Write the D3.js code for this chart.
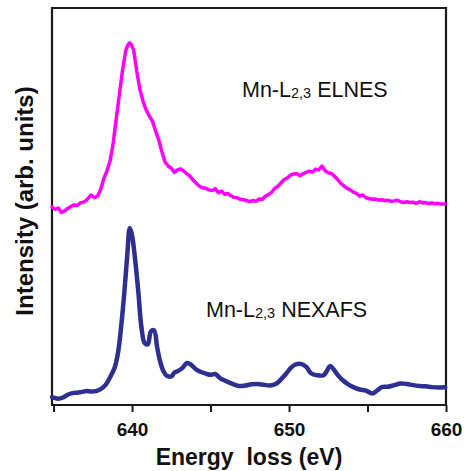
<!DOCTYPE html>
<html>
<head>
<meta charset="utf-8">
<script src="https://cdn.jsdelivr.net/npm/d3@7"></script>
<style>
  html, body { margin: 0; padding: 0; background: #fff; }
  svg { display: block; }
  text { font-family: "Liberation Sans", Arial, Helvetica, sans-serif; }
</style>
</head>
<body>
<svg id="chart" width="468" height="471"></svg>
<script>
// ---------------- data ----------------
const elnesEnergy = [634.9,635.1,635.3,635.5,635.7,635.9,636.1,636.3,636.5,636.7,636.9,637.1,637.3,637.4,637.6,637.8,638.0,638.2,638.4,638.6,638.8,639.0,639.2,639.4,639.6,639.75,639.85,639.95,640.1,640.3,640.5,640.7,640.9,641.1,641.3,641.5,641.7,641.9,642.1,642.3,642.5,642.7,642.9,643.1,643.3,643.5,643.7,643.9,644.1,644.3,644.5,644.7,644.9,645.1,645.3,645.5,645.7,645.9,646.1,646.3,646.5,646.7,646.9,647.1,647.3,647.5,647.7,647.9,648.1,648.3,648.5,648.7,648.9,649.1,649.3,649.5,649.7,649.9,650.1,650.3,650.5,650.7,650.9,651.1,651.3,651.5,651.7,651.9,652.1,652.3,652.5,652.7,652.9,653.1,653.3,653.5,653.7,653.9,654.1,654.3,654.5,654.7,654.9,655.1,655.3,655.5,655.7,655.9,656.1,656.3,656.5,656.7,656.9,657.1,657.3,657.5,657.7,657.9,658.1,658.3,658.5,658.7,658.9,659.1,659.3,659.5,659.7,659.95];
const elnesIntensity = [49.9,49.3,49.6,48.5,48.9,49.5,50.0,50.4,50.2,50.9,51.1,51.6,52.5,52.9,52.2,52.6,54.3,57.0,59.0,61.5,66.0,72.3,78.5,84.5,89.3,90.8,91.2,90.8,89.5,84.0,79.5,76.5,74.3,72.8,71.5,69.0,66.8,63.8,61.2,60.2,59.6,58.6,59.2,59.5,58.9,58.2,57.6,56.6,55.8,55.1,54.7,54.6,54.2,54.0,54.5,53.5,53.9,53.1,53.3,52.7,52.3,52.2,51.8,51.7,51.5,51.2,51.5,51.3,51.9,51.8,52.6,53.0,53.6,54.6,55.1,56.0,56.8,57.2,57.9,58.2,58.3,57.7,58.3,58.6,58.9,58.7,59.4,59.2,60.2,59.0,58.5,58.3,57.6,56.8,55.8,55.2,54.6,54.2,53.6,53.3,52.6,52.9,52.2,52.0,51.8,51.9,51.6,51.7,51.5,51.6,51.3,51.4,51.6,51.2,51.0,51.2,51.0,51.1,50.8,51.2,50.9,51.0,50.7,50.9,50.7,50.8,50.6,50.6];

const nexafsEnergy = [634.9,635.3,635.6,635.9,636.2,636.5,636.8,637.1,637.4,637.7,638.0,638.3,638.6,638.9,639.1,639.3,639.5,639.7,639.85,639.95,640.05,640.2,640.4,640.6,640.8,641.0,641.2,641.4,641.6,641.8,642.0,642.2,642.5,642.7,642.9,643.2,643.5,643.8,644.1,644.4,644.7,645.0,645.3,645.6,646.0,646.4,646.8,647.2,647.6,648.0,648.4,648.8,649.2,649.5,649.8,650.1,650.4,650.8,651.1,651.4,651.8,652.2,652.4,652.6,652.8,653.1,653.4,653.7,654.1,654.5,654.9,655.3,655.6,655.9,656.3,656.7,657.1,657.5,657.9,658.3,658.7,659.1,659.5,659.95];
const nexafsIntensity = [2.0,1.6,1.9,2.6,3.0,3.1,3.3,3.5,3.4,3.5,4.0,5.0,7.0,9.5,13.0,19.5,28.0,38.0,44.5,43.6,41.5,36.5,28.5,19.5,15.6,15.3,18.5,18.8,14.5,10.8,8.5,7.4,7.2,8.2,8.5,9.3,10.6,10.0,8.9,8.3,7.9,7.6,7.8,6.8,6.0,5.3,4.8,4.9,5.2,5.3,5.1,4.9,5.4,6.5,7.8,9.3,10.2,10.3,9.6,8.0,7.5,7.5,8.5,9.8,9.2,7.6,6.3,5.4,4.5,3.9,3.6,2.9,3.6,4.5,4.6,5.0,5.4,5.3,5.0,4.8,4.7,4.5,4.4,4.5];

const majorTicks = [640, 650, 660];
const minorTicks = [635, 645, 655];
const xTitle = "Energy  loss (eV)";
const yTitle = "Intensity (arb. units)";

// ---------------- chart ----------------
const svg = d3.select("#chart");
const mLeft = 52, mRight = 446, mTop = 8, mBottom = 405;

const x = d3.scaleLinear().domain([634.9, 660]).range([mLeft, mRight]);
const y = d3.scaleLinear().domain([0, 100]).range([mBottom, mTop]);

const elnes = elnesEnergy.map((e, i) => [e, elnesIntensity[i]]);
const nexafs = nexafsEnergy.map((e, i) => [e, nexafsIntensity[i]]);

const line = d3.line().x(d => x(d[0])).y(d => y(d[1]));
const smooth = d3.line().x(d => x(d[0])).y(d => y(d[1])).curve(d3.curveCatmullRom.alpha(0.5));

// frame (four sides), drawn as a single path
svg.append("path")
  .attr("d", `M${mLeft},${mTop}H${mRight}V${mBottom}H${mLeft}Z`)
  .attr("fill", "none")
  .attr("stroke", "#1a1a1a")
  .attr("stroke-width", 2.2);

svg.append("path").datum(elnes)
  .attr("d", line)
  .attr("fill", "none")
  .attr("stroke", "#ff00ff")
  .attr("stroke-width", 3.5)
  .attr("stroke-linejoin", "round")
  .attr("stroke-linecap", "round");

svg.append("path").datum(nexafs)
  .attr("d", smooth)
  .attr("fill", "none")
  .attr("stroke", "#2d3091")
  .attr("stroke-width", 4.5)
  .attr("stroke-linejoin", "round")
  .attr("stroke-linecap", "round");

// bottom axis
const xAxis = d3.axisBottom(x)
  .tickValues(majorTicks)
  .tickSize(7)
  .tickPadding(11)
  .tickFormat(d3.format("d"));
const gx = svg.append("g").attr("transform", `translate(0,${mBottom})`).call(xAxis);
gx.select(".domain").remove();
gx.selectAll(".tick line").attr("stroke", "#1a1a1a").attr("stroke-width", 2);
gx.selectAll(".tick text")
  .attr("font-family", "Liberation Sans, Arial, sans-serif")
  .attr("font-weight", "bold")
  .attr("font-size", 19)
  .attr("fill", "#111");

const xMinor = d3.axisBottom(x).tickValues(minorTicks).tickSize(7).tickFormat("");
const gm = svg.append("g").attr("transform", `translate(0,${mBottom})`).call(xMinor);
gm.select(".domain").remove();
gm.selectAll(".tick line").attr("stroke", "#1a1a1a").attr("stroke-width", 2);

// axis titles
svg.append("text")
  .attr("x", 249).attr("y", 465)
  .attr("text-anchor", "middle")
  .attr("font-weight", "bold")
  .attr("font-size", 23)
  .attr("fill", "#111")
  .style("white-space", "pre")
  .text(xTitle);

svg.append("text")
  .attr("transform", "translate(33,201) rotate(-90)")
  .attr("text-anchor", "middle")
  .attr("font-weight", "bold")
  .attr("font-size", 24)
  .attr("fill", "#111")
  .text(yTitle);

// annotations
function label(xp, yp, pre, sub, post) {
  const t = svg.append("text")
    .attr("x", xp).attr("y", yp)
    .attr("font-size", 21.5)
    .attr("fill", "#111")
    .style("white-space", "pre");
  t.append("tspan").text(pre);
  t.append("tspan").attr("font-size", 14.5).attr("dy", 1).text(sub);
  t.append("tspan").attr("dy", -1).text(post);
}
label(242, 97, "Mn-L", "2,3", " ELNES");
label(206, 317, "Mn-L", "2,3", " NEXAFS");
</script>
</body>
</html>
